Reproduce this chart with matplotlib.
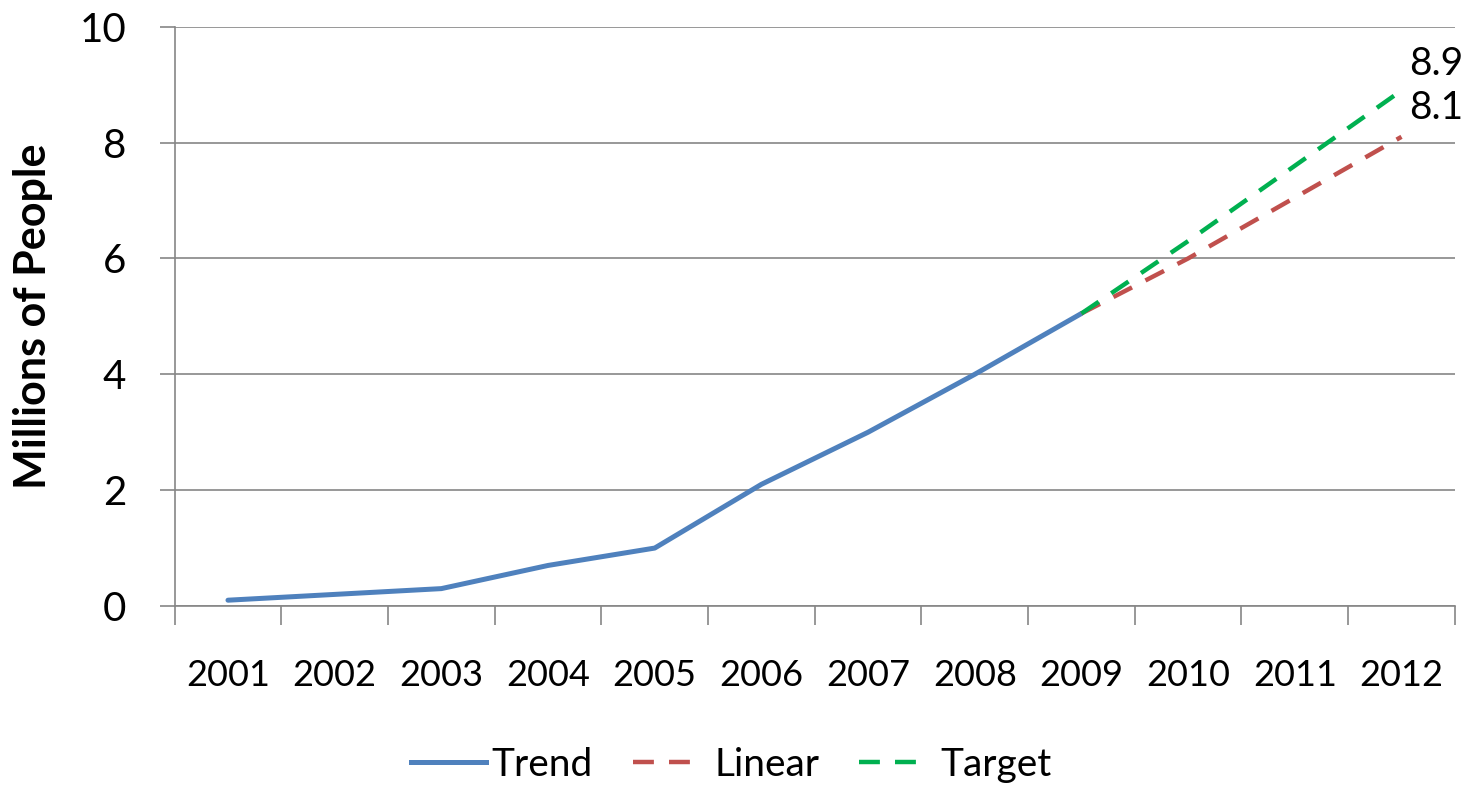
import matplotlib.pyplot as plt
from matplotlib.lines import Line2D

years = ['2001', '2002', '2003', '2004', '2005', '2006',
         '2007', '2008', '2009', '2010', '2011', '2012']
trend = [0.1, 0.2, 0.3, 0.7, 1.0, 2.1, 3.0, 4.0, 5.05]
linear = [5.05, 6.0, 7.05, 8.1]
target = [5.05, 6.3, 7.6, 8.9]

plt.rcParams['font.family'] = ['Lato', 'DejaVu Sans']

fig = plt.figure(figsize=(14.8, 7.87), dpi=100)
ax = fig.add_axes([0.118, 0.23, 0.865, 0.736])

x = list(range(len(years)))
x_trend = x[:len(trend)]
x_proj = x[len(trend) - 1:]

dash = (0, (4.7, 3.4))
ax.plot(x_trend, trend, color='#4F81BD', lw=3.6, solid_capstyle='round', zorder=3)
ax.plot(x_proj, linear, color='#C0504D', lw=3.2, ls=dash, zorder=4)
ax.plot(x_proj, target, color='#00B050', lw=3.2, ls=dash, zorder=5)

# end labels
ax.annotate(f'{target[-1]:.1f}', (x_proj[-1], target[-1]), xytext=(25, 19),
            textcoords='offset points', ha='center', va='center', fontsize=28)
ax.annotate(f'{linear[-1]:.1f}', (x_proj[-1], linear[-1]), xytext=(25, 21),
            textcoords='offset points', ha='center', va='center', fontsize=28)

ax.set_xlim(-0.5, len(years) - 0.5)
ax.set_ylim(0, 10)
ax.set_yticks(range(0, 11, 2))
ax.tick_params(axis='y', labelsize=29, length=11, color='#868686', width=1.2, pad=24)

# category ticks between labels, labels at centers
ax.set_xticks([i - 0.5 for i in range(len(years) + 1)])
ax.set_xticklabels([])
ax.set_xticks(x, minor=True)
ax.set_xticklabels(years, minor=True)
ax.tick_params(axis='x', which='major', length=14, color='#868686', width=1.2)
ax.tick_params(axis='x', which='minor', length=0, labelsize=26, pad=38)

ax.grid(axis='y', color='#868686', lw=1.2)
ax.set_axisbelow(True)
for s in ['top', 'right']:
    ax.spines[s].set_visible(False)
ax.spines['left'].set_color('#868686')
ax.spines['bottom'].set_color('#868686')
ax.spines['left'].set_linewidth(1.2)
ax.spines['bottom'].set_linewidth(1.2)

ax.set_ylabel('Millions of People', fontsize=31, fontweight='bold')
ax.yaxis.set_label_coords(-0.095, 0.5)

# legend proxies: two dashes then a gap before the text, like the original
leg_dash = (0, (4.7, 3.4, 4.7, 20))
handles = [
    Line2D([], [], color='#4F81BD', lw=3.6),
    Line2D([], [], color='#C0504D', lw=3.2, ls=leg_dash),
    Line2D([], [], color='#00B050', lw=3.2, ls=leg_dash),
]
fig.legend(handles, ['Trend', 'Linear', 'Target'], loc='center',
           bbox_to_anchor=(0.494, 0.028), ncol=3, frameon=False,
           fontsize=28, handlelength=1.93, columnspacing=1.03, handletextpad=0.15)

fig.savefig('out.png', dpi=100)
